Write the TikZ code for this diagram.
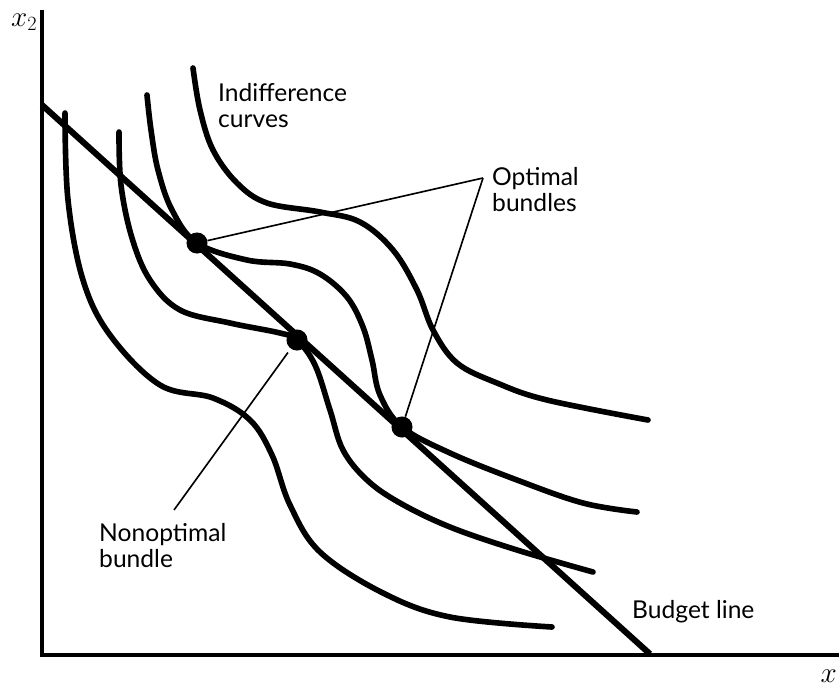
\documentclass[tikz,border=0pt]{standalone}
\usepackage{fontspec}
\setmainfont{Lato}
\usetikzlibrary{calc}
\tikzset{
  axisline/.style={black, line width=3.8pt},
  icurve/.style={black, line width=4.8pt, line cap=round},
  budget/.style={black, line width=5.2pt},
  leader/.style={black, line width=1.4pt},
  bundledot/.style={circle, fill=black, inner sep=0pt, minimum size=18pt},
  lbl/.style={font=\fontsize{21}{21.5}\selectfont, inner sep=0pt, align=left, anchor=base west},
  axlbl/.style={font=\fontsize{24}{24}\selectfont, inner sep=0pt, anchor=base west},
}

\begin{document}
\begin{tikzpicture}[x=0.03cm, y=-0.03cm]
  \useasboundingbox (0,0) rectangle (839,687);

  % Axes
  \coordinate (origin) at (42,655);
  \coordinate (ytop) at (42,10);
  \coordinate (xend) at (839,655);
  \draw[axisline] (ytop) -- (origin) -- (xend);
  \node[axlbl] (xtwo) at (11,26) {$x_2$};
  \node[axlbl, anchor=base east] (xone) at (837,682) {$x$};

  % Budget line
  \coordinate (bstart) at (42,105);
  \coordinate (bend) at (650,654);
  \draw[budget] (bstart) -- (bend);

  % Indifference curves
  \draw[icurve] plot[smooth, tension=0.6] coordinates {(65,113) (68,200) (83,280)
    (110,335) (160,385) (213,398) (250,420) (272,455) (290,505) (320,552)
    (383,593) (450,617) (552,627)};
  \draw[icurve] plot[smooth, tension=0.6] coordinates {(119,132) (121,185) (132,238)
    (150,280) (180,310) (230,323) (280,333) (297,340) (315,365) (330,410)
    (343,450) (367,480) (400,503) (450,527) (517,550) (593,572)};
  \draw[icurve] plot[smooth, tension=0.6] coordinates {(147,95) (151,130) (158,170)
    (172,210) (197,243) (247,260) (290,264) (320,274) (347,297) (363,327)
    (372,360) (380,395) (402,427) (450,453) (517,480) (583,503) (637,512)};
  \draw[icurve] plot[smooth, tension=0.6] coordinates {(193,68) (200,110) (213,150)
    (237,183) (267,203) (320,212) (360,222) (393,250) (417,290) (433,330)
    (457,363) (497,383) (547,400) (648,420)};

  % Bundles
  \node[bundledot] (optA) at (197,243) {};
  \node[bundledot] (nonopt) at (297,340) {};
  \node[bundledot] (optB) at (402,427) {};

  % Labels (base = last line)
  \node[lbl] (iclbl) at (218,127) {Indifference\\curves};
  \node[lbl] (optlbl) at (492,211) {Optimal\\bundles};
  \node[lbl] (nonlbl) at (99,567) {Nonoptimal\\bundle};
  \node[lbl] (budlbl) at (632,618) {Budget line};

  % Leaders
  \coordinate (optapex) at (483,178);
  \coordinate (nonend) at (174,510);
  \draw[leader] (optapex) -- (optA);
  \draw[leader] (optapex) -- (optB);
  \draw[leader, shorten >=4pt] (nonend) -- (nonopt);

\end{tikzpicture}
\end{document}
